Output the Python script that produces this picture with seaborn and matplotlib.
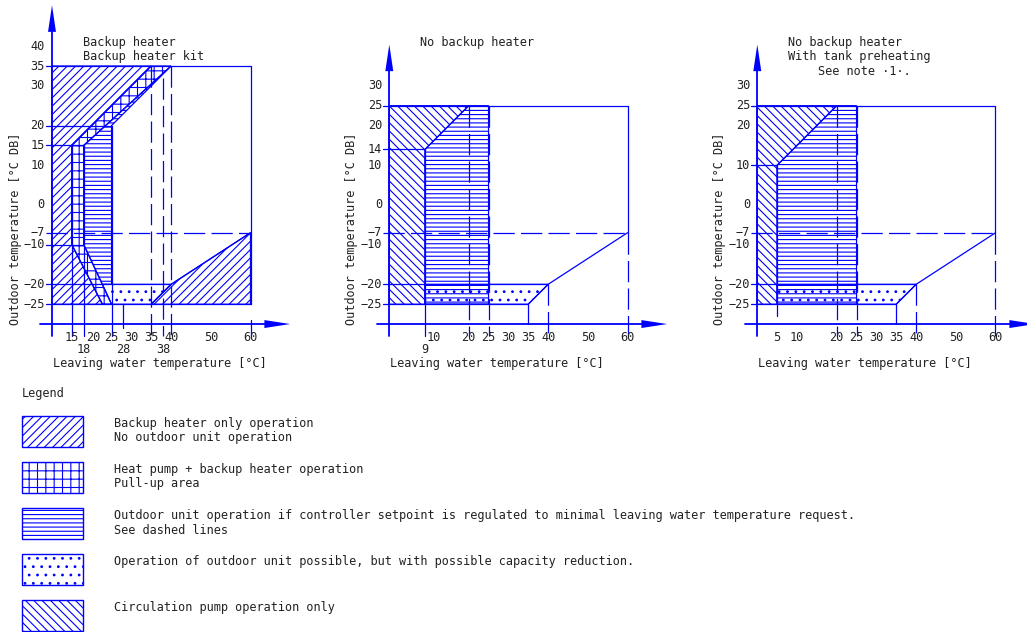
import matplotlib
matplotlib.use('Agg')
import matplotlib.pyplot as plt
import seaborn as sns
from matplotlib.patches import Rectangle

sns.set_theme(style='white')
plt.rcParams['font.family'] = ['DejaVu Sans Mono']
plt.rcParams['hatch.color'] = 'blue'
plt.rcParams['hatch.linewidth'] = 0.8

BLUE = '#0000ff'
FS = 8.6
W, H = 1027, 632
S = 3.97          # pixels per degree, both axes
DASH = (0, (17, 5))

# ---------------- data ----------------
# common capacity limit line (leaving water vs outdoor)
limit_x = [35, 40, 60]
limit_y = [-25, -20, -7]

# panel 1: backup heater
p1_backup_x = [10, 35, 15, 15, 22.7, 10]
p1_backup_y = [35, 35, 15, -10, -25, -25]
p1_backup2_x = [35, 40, 60, 60]
p1_backup2_y = [-25, -20, -7, -25]
p1_pullup_x = [15, 15, 35, 40, 18, 18, 25, 22.7]
p1_pullup_y = [-10, 15, 35, 35, 15, -10, -25, -25]
p1_outdoor_x = [18, 18, 40, 25, 25, 22.7]
p1_outdoor_y = [-10, 15, 35, 20, -20, -20]
p1_reduced_x = [22.7, 40, 35, 25]
p1_reduced_y = [-20, -20, -25, -25]
p1_yticks = [40, 35, 30, 20, 15, 10, 0, -7, -10, -20, -25]
p1_xticks_top = [15, 20, 25, 30, 35, 40, 50, 60]
p1_xticks_low = [18, 28, 38]

# panel 2: no backup heater
p2_pump_x = [0, 20, 9, 9, 0]
p2_pump_y = [25, 25, 14, -25, -25]
p2_outdoor_x = [9, 20, 25, 25, 9]
p2_outdoor_y = [14, 25, 25, -25, -25]
p2_reduced_x = [9, 40, 35, 9]
p2_reduced_y = [-20, -20, -25, -25]
p2_yticks = [30, 25, 20, 14, 10, 0, -7, -10, -20, -25]
p2_xticks_top = [10, 20, 25, 30, 35, 40, 50, 60]
p2_xticks_low = [9]

# panel 3: no backup heater, tank preheating
p3_pump_x = [0, 20, 5, 5, 0]
p3_pump_y = [25, 25, 10, -25, -25]
p3_outdoor_x = [5, 20, 25, 25, 5]
p3_outdoor_y = [10, 25, 25, -25, -25]
p3_reduced_x = [5, 40, 35, 5]
p3_reduced_y = [-20, -20, -25, -25]
p3_yticks = [30, 25, 20, 10, 0, -7, -10, -20, -25]
p3_xticks_top = [5, 10, 20, 25, 30, 35, 40, 50, 60]

HATCH_BACKUP = '////'
HATCH_PULLUP = '++'
HATCH_OUTDOOR = '----'
HATCH_REDUCED = '..'
HATCH_PUMP = '\\\\\\\\'

legend_hatches = [HATCH_BACKUP, HATCH_PULLUP, HATCH_OUTDOOR, HATCH_REDUCED, HATCH_PUMP]
legend_lines = [
    ['Backup heater only operation', 'No outdoor unit operation'],
    ['Heat pump + backup heater operation', 'Pull-up area'],
    ['Outdoor unit operation if controller setpoint is regulated to minimal leaving water temperature request.',
     'See dashed lines'],
    ['Operation of outdoor unit possible, but with possible capacity reduction.'],
    ['Circulation pump operation only'],
]


def fmt(v):
    return str(v).replace('-', '\u2212')


def make_axes(fig, x0px, xmin, xmax, ymin=-42, ymax=52):
    top_px = 66 + (35 - ymax) * S
    hpx = (ymax - ymin) * S
    ax = fig.add_axes([(x0px + xmin * S) / W, 1 - (top_px + hpx) / H,
                       (xmax - xmin) * S / W, hpx / H])
    ax.set_xlim(xmin, xmax)
    ax.set_ylim(ymin, ymax)
    ax.axis('off')
    return ax


def region(ax, xs, ys, hatch):
    ax.fill(xs, ys, facecolor='none', edgecolor=BLUE, hatch=hatch, lw=0.9)


def hline(ax, y, x1, x2, ls='-'):
    ax.plot([x1, x2], [y, y], color=BLUE, lw=0.9, ls=ls)


def vline(ax, x, y1, y2, ls='-'):
    ax.plot([x, x], [y1, y2], color=BLUE, lw=0.9, ls=ls)


def frame(ax, yx, xstart, ytop, yticks, xtop, xlow, nudge=None):
    # y axis with arrow
    ax.plot([yx, yx], [-33, ytop - 6], color=BLUE, lw=1.3)
    ax.fill([yx - 1, yx, yx + 1], [ytop - 6.7, ytop, ytop - 6.7], color=BLUE, lw=0)
    # x axis with arrow
    ax.plot([xstart, 64], [-30, -30], color=BLUE, lw=1.3)
    ax.fill([63.5, 70, 63.5], [-29, -30, -31], color=BLUE, lw=0)
    sns.lineplot(x=limit_x, y=limit_y, ax=ax, color=BLUE, lw=0.9)
    ax.axis('off')
    for v in yticks:
        ax.text(yx - 1.8, v, fmt(v), ha='right', va='center', fontsize=FS, color='#222222')
    nudge = nudge or {}
    for v in xtop:
        ax.text(v + nudge.get(v, 0), -33.4, fmt(v), ha='center', va='center', fontsize=FS, color='#222222')
    for v in xlow:
        ax.text(v, -36.5, fmt(v), ha='center', va='center', fontsize=FS, color='#222222')


fig = plt.figure(figsize=(W / 100, H / 100), dpi=100)

# ---------------- panel 1 ----------------
ax1 = make_axes(fig, 12.3, -3, 72, ymin=-42, ymax=55)
region(ax1, p1_backup_x, p1_backup_y, HATCH_BACKUP)
region(ax1, p1_backup2_x, p1_backup2_y, HATCH_BACKUP)
region(ax1, p1_pullup_x, p1_pullup_y, HATCH_PULLUP)
region(ax1, p1_outdoor_x, p1_outdoor_y, HATCH_OUTDOOR)
region(ax1, p1_reduced_x, p1_reduced_y, HATCH_REDUCED)
hline(ax1, 35, 8.5, 60)
hline(ax1, 20, 8.5, 25)
hline(ax1, 15, 8.5, 18)
hline(ax1, -10, 8.5, 18)
hline(ax1, -20, 8.5, 40)
hline(ax1, -25, 8.5, 60)
hline(ax1, -7, 8.5, 60, DASH)
vline(ax1, 15, 15, -33)
vline(ax1, 18, 15, -33)
vline(ax1, 25, 20, -33)
vline(ax1, 28, -25, -31)
vline(ax1, 60, 35, -25)
vline(ax1, 60, -29, -33)
vline(ax1, 35, 35, -33, DASH)
vline(ax1, 38, 32, -33, DASH)
vline(ax1, 40, 35, -33, DASH)
frame(ax1, 10, 7, 50.3, p1_yticks, p1_xticks_top, p1_xticks_low, {20: 0.3})
ax1.text(17.8, 41, 'Backup heater', ha='left', va='center', fontsize=FS, color='#222222')
ax1.text(17.8, 37.5, 'Backup heater kit', ha='left', va='center', fontsize=FS, color='#222222')
ax1.text(10.2, -39.9, 'Leaving water temperature [°C]', ha='left', va='center', fontsize=FS, color='#222222')
ax1.text(0.7, -5.9, 'Outdoor temperature [°C DB]', rotation=90, ha='center', va='center',
         fontsize=FS, color='#222222')

# ---------------- panels 2 and 3 ----------------
def right_panel(x0px, pump_x, pump_y, out_x, out_y, red_x, red_y, xmin_line, ymin_line,
                vbottom, yticks, xtop, xlow, nudge, ylab_x):
    ax = make_axes(fig, x0px, -12, 72, ymin=-42, ymax=55)
    region(ax, pump_x, pump_y, HATCH_PUMP)
    region(ax, out_x, out_y, HATCH_OUTDOOR)
    region(ax, red_x, red_y, HATCH_REDUCED)
    hline(ax, 25, -1.7, 60)
    hline(ax, ymin_line, -1.7, xmin_line)
    hline(ax, -20, -1.7, 40)
    hline(ax, -25, -1.7, 35)
    hline(ax, -7, -1.7, 60, DASH)
    vline(ax, xmin_line, ymin_line, vbottom)
    vline(ax, 35, -25, -30)
    vline(ax, 60, 25, -7)
    vline(ax, 20, 25, -33, DASH)
    vline(ax, 25, 25, -33, DASH)
    vline(ax, 40, -20, -33, DASH)
    vline(ax, 60, -7, -33, DASH)
    frame(ax, 0, -3, 40.4, yticks, xtop, xlow, nudge)
    ax.text(0.2, -39.9, 'Leaving water temperature [°C]', ha='left', va='center', fontsize=FS, color='#222222')
    ax.text(ylab_x, -5.9, 'Outdoor temperature [°C DB]', rotation=90, ha='center', va='center',
            fontsize=FS, color='#222222')
    return ax


ax2 = right_panel(389.3, p2_pump_x, p2_pump_y, p2_outdoor_x, p2_outdoor_y, p2_reduced_x, p2_reduced_y,
                  9, 14, -33, p2_yticks, p2_xticks_top, p2_xticks_low, {10: 1.1}, -9.5)
ax2.text(7.7, 41, 'No backup heater', ha='left', va='center', fontsize=FS, color='#222222')

ax3 = right_panel(757.3, p3_pump_x, p3_pump_y, p3_outdoor_x, p3_outdoor_y, p3_reduced_x, p3_reduced_y,
                  5, 10, -28, p3_yticks, p3_xticks_top, [], {}, -9.4)
ax3.text(7.7, 41, 'No backup heater', ha='left', va='center', fontsize=FS, color='#222222')
ax3.text(7.7, 37.5, 'With tank preheating', ha='left', va='center', fontsize=FS, color='#222222')
ax3.text(15.4, 33.7, 'See note \u00b71\u00b7.', ha='left', va='center', fontsize=FS, color='#222222')

# ---------------- legend ----------------
axl = fig.add_axes([0, 0, 1, 1 - 375 / H])
axl.set_xlim(0, W)
axl.set_ylim(H, 375)
axl.axis('off')
axl.text(22, 393, 'Legend', ha='left', va='center', fontsize=FS, color='#222222')
for i, (hatch, lines) in enumerate(zip(legend_hatches, legend_lines)):
    top = 416 + i * 46
    axl.add_patch(Rectangle((22, top), 61, 31, facecolor='none', edgecolor=BLUE, hatch=hatch, lw=1))
    for j, line in enumerate(lines):
        axl.text(114, top + 8 + j * 14, line, ha='left', va='center', fontsize=FS, color='#222222')

fig.savefig('out.png', dpi=100)
